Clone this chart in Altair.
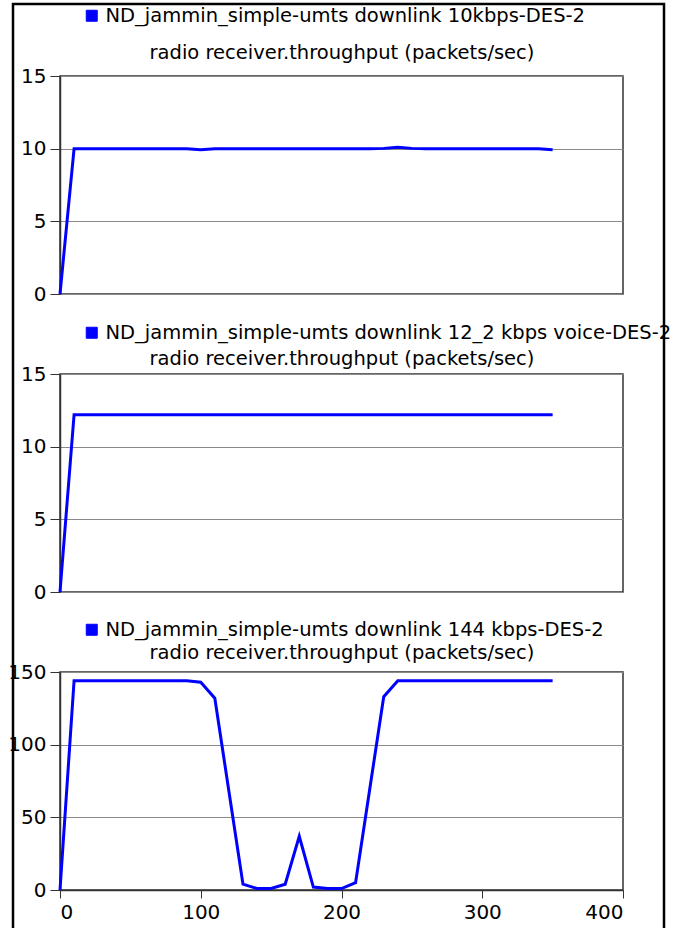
import altair as alt
import pandas as pd

FONT = "DejaVu Sans"

time_s = [0, 10, 20, 30, 40, 50, 60, 70, 80, 90, 100, 110, 120, 130, 140, 150, 160, 170,
          180, 190, 200, 210, 220, 230, 240, 250, 260, 270, 280, 290, 300, 310, 320, 330, 340, 350]

tput_10k = [0, 10, 10, 10, 10, 10, 10, 10, 10, 10, 9.93, 10.0, 10, 10, 10, 10, 10, 10,
            10, 10, 10, 10, 10, 10.02, 10.1, 10.02, 10, 10, 10, 10, 10, 10, 10, 10, 10, 9.92]

tput_12k = [0, 12.2, 12.2, 12.2, 12.2, 12.2, 12.2, 12.2, 12.2, 12.2, 12.2, 12.2, 12.2, 12.2,
            12.2, 12.2, 12.2, 12.2, 12.2, 12.2, 12.2, 12.2, 12.2, 12.2, 12.2, 12.2, 12.2, 12.2,
            12.2, 12.2, 12.2, 12.2, 12.2, 12.2, 12.2, 12.2]

tput_144k = [0, 144, 144, 144, 144, 144, 144, 144, 144, 144, 143, 132, 68, 4, 1, 1, 4, 37,
             2, 1, 1, 5, 69, 133, 144, 144, 144, 144, 144, 144, 144, 144, 144, 144, 144, 144]

names = [
    "ND_jammin_simple-umts downlink 10kbps-DES-2",
    "ND_jammin_simple-umts downlink 12_2 kbps voice-DES-2",
    "ND_jammin_simple-umts downlink 144 kbps-DES-2",
]
subtitle = "radio receiver.throughput (packets/sec)"

W, H = 563, 218


def panel(values, name, ymax, yticks, show_x, legend_y, title_pad, border=False):
    df = pd.DataFrame({"t": time_s, "v": values, "series": name})
    xscale = alt.Scale(domain=[0, 400], nice=False)
    if show_x:
        xaxis = alt.Axis(values=[0, 100, 200, 300, 400], grid=False, tickSize=8,
                         tickColor="#333", domainColor="#333", domainWidth=1.5,
                         labelFontSize=20, labelFont=FONT, labelColor="black",
                         labelPadding=4, title=None, orient="bottom")
    else:
        xaxis = None
    line = alt.Chart(df).mark_line(strokeWidth=3).encode(
        x=alt.X("t:Q", scale=xscale, axis=xaxis),
        y=alt.Y("v:Q", scale=alt.Scale(domain=[0, ymax], nice=False),
                axis=alt.Axis(values=yticks, grid=True, gridColor="#8a8a8a", gridWidth=1,
                              tickSize=10, tickColor="#333", domainColor="#333",
                              domainWidth=1.5, labelFontSize=20, labelFont=FONT,
                              labelColor="black", labelPadding=4, title=None)),
        color=alt.Color("series:N", scale=alt.Scale(range=["#0000ff"]),
                        legend=alt.Legend(orient="none", legendX=22, legendY=legend_y,
                                          title=None, symbolType="square",
                                          symbolFillColor="#0000ff", symbolSize=121,
                                          symbolStrokeWidth=1, labelFont=FONT,
                                          labelFontSize=19.5, labelColor="black",
                                          labelLimit=0, labelOffset=4)),
    )
    # top axis carrying only the measurement name as its title
    top = alt.Chart(df).mark_point(opacity=0).encode(
        x=alt.X("t:Q", scale=xscale,
                axis=alt.Axis(orient="top", labels=False, ticks=False, domain=False,
                              grid=False, title=subtitle, titleFont=FONT,
                              titleFontSize=19.5, titleFontWeight="normal",
                              titleColor="black", titlePadding=title_pad)),
    )
    layers = [line, top]
    if border:
        frame = alt.Chart(pd.DataFrame({"k": [0]})).mark_rect(
            fill="transparent", stroke="black", strokeWidth=2.5
        ).encode(x=alt.value(-47), x2=alt.value(604), y=alt.value(-668), y2=alt.value(275))
        layers.append(frame)
    return alt.layer(*layers).resolve_axis(x="independent").properties(width=W, height=H)


p1 = panel(tput_10k, names[0], 15, [0, 5, 10, 15], False, -70, 14)
p2 = panel(tput_12k, names[1], 15, [0, 5, 10, 15], False, -51, 6)
p3 = panel(tput_144k, names[2], 150, [0, 50, 100, 150], True, -52, 10, border=True)

chart = alt.vconcat(p1, p2, p3, spacing=80, bounds="flush").resolve_scale(
    color="independent"
).resolve_legend(color="independent").configure_view(
    stroke="#333", strokeWidth=1.5
).properties(padding={"left": 7, "top": 2, "right": 0, "bottom": 0}, background="white")

chart.save("out.html", embed_options={"renderer": "svg", "actions": False})
